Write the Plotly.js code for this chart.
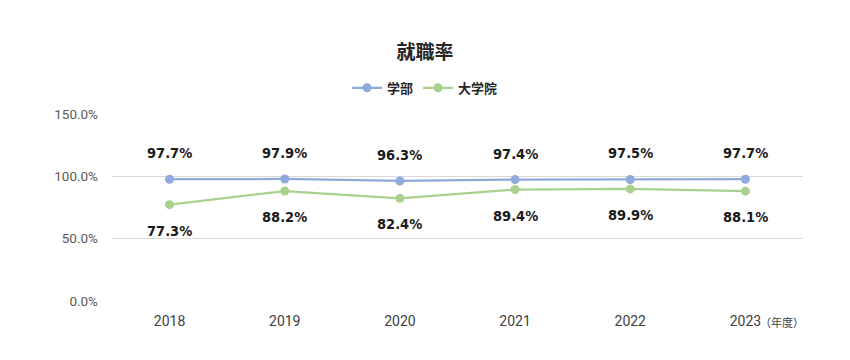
<!DOCTYPE html>
<html><head><meta charset="utf-8">
<script src="https://cdn.plot.ly/plotly-3.0.1.min.js"></script>
<style>body{margin:0}#c{width:850px;height:360px}</style>
</head><body><div id="c"></div>
<script>
const years = ['2018','2019','2020','2021','2022','2023'];
const undergrad = [97.7, 97.9, 96.3, 97.4, 97.5, 97.7];
const graduate = [77.3, 88.2, 82.4, 89.4, 89.9, 88.1];
const seriesNames = ['学部','大学院'];
const titleText = '就職率';
const unitText = '（年度）';

const lf = '"DejaVu Sans Condensed", "Roboto", sans-serif';
const cjk = '"Noto Sans CJK JP", sans-serif';
const tf = '"Roboto", sans-serif';

function lbl(v){ return v.toFixed(1) + '%'; }

const traces = [
  {x: years, y: undergrad, name: seriesNames[0], type: 'scatter', mode: 'lines+markers',
   line: {color: '#8faadc', width: 2.25}, marker: {color: '#8faadc', size: 9}, cliponaxis: false},
  {x: years, y: graduate, name: seriesNames[1], type: 'scatter', mode: 'lines+markers',
   line: {color: '#a9d18e', width: 2.25}, marker: {color: '#a9d18e', size: 9}, cliponaxis: false}
];

const labelFont = {family: lf, size: 14.5, color: '#1a1a1a', weight: 'bold'};
const annotations = [];
years.forEach((yr, i) => {
  annotations.push({x: i, y: undergrad[i], xref: 'x', yref: 'y', text: lbl(undergrad[i]),
    showarrow: false, yshift: 26, font: labelFont});
  annotations.push({x: i, y: graduate[i], xref: 'x', yref: 'y', text: lbl(graduate[i]),
    showarrow: false, yshift: -26, font: labelFont});
});
annotations.push({text: unitText, xref: 'paper', yref: 'paper', x: (years.length - 0.5) / years.length, y: 0,
  xanchor: 'left', yanchor: 'middle', xshift: 13, yshift: -21, showarrow: false,
  font: {family: cjk, size: 11, color: '#404040'}});

const layout = {
  width: 850, height: 360,
  margin: {l: 112, r: 47, t: 114, b: 59},
  paper_bgcolor: '#fff', plot_bgcolor: '#fff',
  title: {text: '<b>' + titleText + '</b>', x: 0.5, xanchor: 'center', y: 0.855, yanchor: 'middle',
          font: {family: cjk, size: 19, color: '#262626'}},
  showlegend: true,
  legend: {orientation: 'h', x: (425 - 112) / 691, xanchor: 'center', y: 1.14, yanchor: 'middle',
           font: {family: cjk, size: 13, color: '#262626', weight: 'bold'}, itemwidth: 30, tracegroupgap: 0},
  xaxis: {type: 'category', range: [-0.5, years.length - 0.5], showgrid: false, zeroline: false, showline: false, ticks: '',
          ticklabelstandoff: 10,
          tickfont: {family: tf, size: 14, color: '#404040'}},
  yaxis: {range: [0, 150], dtick: 50, tickformat: '.1f', ticksuffix: '%', showgrid: true,
          gridcolor: '#d9d9d9', gridwidth: 1, zeroline: false, showline: false, ticks: '',
          ticklabelstandoff: 13,
          tickfont: {family: tf, size: 13.5, color: '#595959'}},
  annotations: annotations
};
Plotly.newPlot('c', traces, layout, {displayModeBar: false});
</script></body></html>
